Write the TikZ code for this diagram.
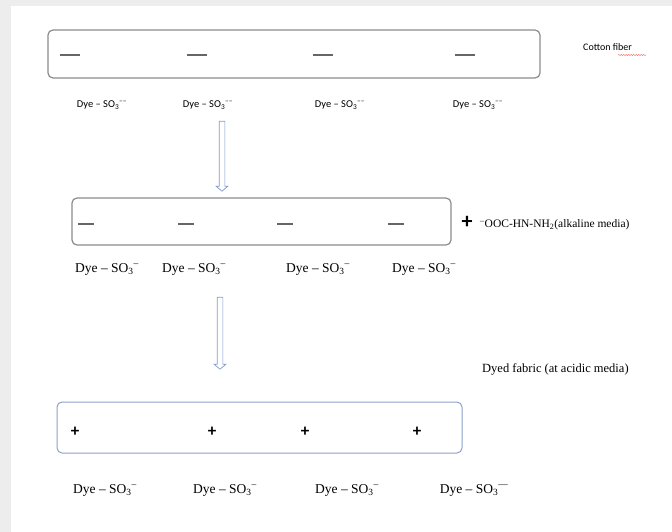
\documentclass[tikz,border=0pt]{standalone}
\usepackage{fontspec}
\setmainfont{Liberation Serif}
\newfontfamily\calibri[Ligatures=TeX]{Carlito}
\usetikzlibrary{shapes.arrows,decorations.pathmorphing}
\definecolor{arrowblue}{RGB}{130,155,205}
\definecolor{fabricblue}{RGB}{140,160,200}
\tikzset{
    fiberbox/.style  = {draw=black!45, line width=1.2pt, rounded corners=5pt},
    fabricbox/.style = {draw=fabricblue, line width=1pt, rounded corners=5pt},
    charge/.style    = {font=\calibri\fontsize{17}{18}\selectfont\bfseries, inner sep=0pt},
    minusmark/.style = {draw=black!60, line width=1.4pt},
    dyeA/.style      = {font=\calibri\fontsize{10.5}{12}\selectfont, inner sep=0pt},
    dyeB/.style      = {font=\fontsize{13.5}{15}\selectfont, inner sep=0pt},
    sidenote/.style  = {font=\fontsize{12.5}{14}\selectfont, inner sep=0pt, anchor=west},
    hollow/.style    = {single arrow, draw=arrowblue, fill=white, line width=0.7pt,
        rotate=-90, minimum height=70pt, minimum width=11pt, inner xsep=0pt,
        inner ysep=2.5pt, single arrow head extend=3pt, single arrow tip angle=100}
}
\newcommand{\dyeion}{Dye – SO\textsubscript{3}\textsuperscript{–}}
\begin{document}
\begin{tikzpicture}[x=1pt, y=-1pt]
    % page
    \fill[black!7] (0,0) rectangle (672,532);
    \fill[white] (11,6) rectangle (672,532);
    \useasboundingbox (0,0) rectangle (672,532);

    % cotton fiber
    \draw[fiberbox] (48,30) rectangle (540,78);
    \foreach \x in {70,197,323,465}
        \draw[minusmark] (\x-10,55) -- (\x+10,55);
    \node[dyeA] (dyeA1) at (102,105) {Dye – SO\textsubscript{3}\textsuperscript{––}};
    \node[dyeA] (dyeA2) at (208,105) {Dye – SO\textsubscript{3}\textsuperscript{––}};
    \node[dyeA] (dyeA3) at (340,105) {Dye – SO\textsubscript{3}\textsuperscript{––}};
    \node[dyeA] (dyeA4) at (478,105) {Dye – SO\textsubscript{3}\textsuperscript{––}};
    \node[font=\calibri\fontsize{10}{12}\selectfont, inner sep=0pt, anchor=west]
        (cotton) at (583,47) {Cotton fiber};
    \draw[red!70, decorate, decoration={snake, amplitude=0.5pt, segment length=2.5pt}]
        (618,55) -- (646,55);

    \node[hollow] (arrowA) at (222,155) {};

    % fiber after treatment
    \draw[fiberbox] (72,198) rectangle (451,245);
    \foreach \x in {86,186,285,396}
        \draw[minusmark] (\x-8,224) -- (\x+8,224);
    \node[charge, font=\calibri\fontsize{22}{22}\selectfont\bfseries] (plusB) at (467,222) {+};
    \node[sidenote, font=\fontsize{11.5}{13}\selectfont] (reagent) at (480,225)
        {\textsuperscript{–}OOC-HN-NH\textsubscript{2}(alkaline media)};
    \node[dyeB] (dyeB1) at (107,269) {\dyeion};
    \node[dyeB] (dyeB2) at (194,269) {\dyeion};
    \node[dyeB] (dyeB3) at (318,269) {\dyeion};
    \node[dyeB] (dyeB4) at (424,269) {\dyeion};

    \node[hollow, minimum height=72pt] (arrowB) at (220,332) {};

    % dyed fabric
    \node[sidenote] (fabric) at (482,369) {Dyed fabric (at acidic media)};
    \draw[fabricbox] (57,402) rectangle (462,453);
    \node[charge] (plusC1) at (75,432) {+};
    \node[charge] (plusC2) at (212,432) {+};
    \node[charge] (plusC3) at (305,432) {+};
    \node[charge] (plusC4) at (417,432) {+};
    \node[dyeB] (dyeC1) at (105,490) {\dyeion};
    \node[dyeB] (dyeC2) at (225,490) {\dyeion};
    \node[dyeB] (dyeC3) at (347,490) {\dyeion};
    \node[dyeB] (dyeC4) at (474,490) {Dye – SO\textsubscript{3}\textsuperscript{—}};
\end{tikzpicture}
\end{document}
